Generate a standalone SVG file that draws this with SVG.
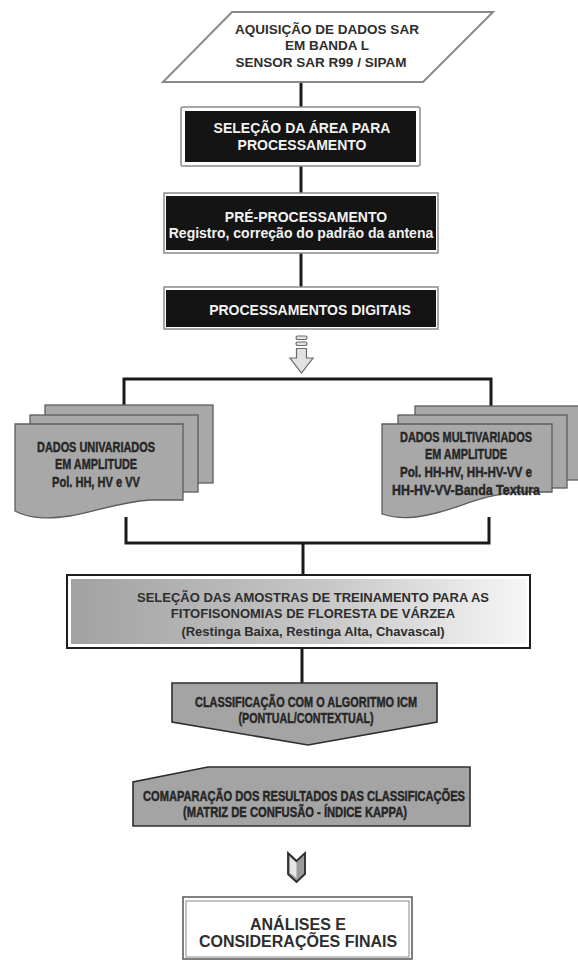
<svg xmlns="http://www.w3.org/2000/svg" width="578" height="960" viewBox="0 0 578 960">
<defs>
<style>
.t{font-family:"Liberation Sans",Arial,sans-serif;font-weight:bold;text-anchor:middle}
.dk{fill:#2e2e2e}
.wh{fill:#f2f2f2}
.n{font-family:"Liberation Sans Narrow","Liberation Sans",Arial,sans-serif;font-weight:bold;text-anchor:middle;fill:#262626;stroke:#262626;stroke-width:0.45;font-size:15px}
.ln{stroke:#1a1a1a;stroke-width:3;fill:none}
.frame{fill:#fff;stroke:#8a8a8a;stroke-width:1.5}
.blk{fill:#141414}
.doc{fill:#a8a8a8;stroke:#5c5c5c;stroke-width:1.3}
.gshape{fill:#a4a4a4;stroke:#2e2e2e;stroke-width:1.6}
</style>
<linearGradient id="grad" x1="0" y1="0" x2="1" y2="0">
<stop offset="0" stop-color="#a2a2a2"/>
<stop offset="0.55" stop-color="#c6c6c6"/>
<stop offset="1" stop-color="#f6f6f6"/>
</linearGradient>
</defs>
<rect width="578" height="960" fill="#fff"/>

<g id="connectors">
<line class="ln" x1="301" y1="82" x2="301" y2="107"/>
<line class="ln" x1="301" y1="166" x2="301" y2="194"/>
<line class="ln" x1="301" y1="253" x2="301" y2="287"/>
<polyline class="ln" points="124,405 124,379 491,379 491,406"/>
<polyline class="ln" points="126,517 126,543 489,543 489,517"/>
<line class="ln" x1="303" y1="543" x2="303" y2="575"/>
<line class="ln" x1="302" y1="648" x2="302" y2="683"/>
<g id="arrow1" fill="#e2e2e2" stroke="#6a6a6a" stroke-width="1.2">
<rect x="296" y="336" width="11" height="3.5" rx="1.7"/>
<rect x="296" y="342" width="11" height="3.5" rx="1.7"/>
<path d="M296.5,348.5 L306.5,348.5 L306.5,358 L313,358 L301.5,373 L290,358 L296.5,358 Z"/>
</g>
<g id="arrow2">
<path d="M288,853 L296.5,861 L305,853 L305,874 L296.5,882 L288,874 Z" fill="#9a9a9a" stroke="#2a2a2a" stroke-width="1.8"/>
<path d="M290,857 L296.5,863 L296.5,878 L290,873 Z" fill="#e6e6e6"/>
</g>
</g>

<g id="n1">
<path d="M232,12 L493,12 L423,82 L163,82 Z" fill="#fff" stroke="#8a8a8a" stroke-width="2"/>
<text class="t dk" font-size="13.5" x="327" y="34">AQUISIÇÃO DE DADOS SAR</text>
<text class="t dk" font-size="13.5" x="327" y="50">EM BANDA L</text>
<text class="t dk" font-size="13.5" x="321" y="67">SENSOR SAR R99 / SIPAM</text>
</g>

<g id="n2">
<rect class="frame" x="181" y="107" width="239" height="59" rx="2"/>
<rect class="blk" x="185" y="111" width="231" height="51"/>
<text class="t wh" font-size="14" x="302" y="133">SELEÇÃO DA ÁREA PARA</text>
<text class="t wh" font-size="14" x="302" y="150">PROCESSAMENTO</text>
</g>

<g id="n3">
<rect class="frame" x="164" y="193" width="274" height="60"/>
<rect class="blk" x="166" y="196" width="270" height="54"/>
<text class="t wh" font-size="14" x="306" y="222">PRÉ-PROCESSAMENTO</text>
<text class="t wh" font-size="14" x="301" y="238">Registro, correção do padrão da antena</text>
</g>

<g id="n4">
<rect class="frame" x="164" y="287" width="274" height="42"/>
<rect class="blk" x="166" y="290" width="270" height="37"/>
<text class="t wh" font-size="14" x="310" y="315">PROCESSAMENTOS DIGITAIS</text>
</g>

<g id="n5">
<rect class="doc" x="45" y="405" width="168" height="78"/>
<rect class="doc" x="30" y="415" width="168" height="77"/>
<path class="doc" d="M15,424 L183,424 L183,500 L150,500 C118,502 96,512 70,516 C48,519 30,519 15,511 Z"/>
<text class="n" x="96" y="452" textLength="118" lengthAdjust="spacingAndGlyphs">DADOS UNIVARIADOS</text>
<text class="n" x="96" y="469" textLength="82" lengthAdjust="spacingAndGlyphs">EM AMPLITUDE</text>
<text class="n" x="96" y="487" textLength="88" lengthAdjust="spacingAndGlyphs">Pol. HH, HV e VV</text>
</g>

<g id="n6">
<rect class="doc" x="415" y="406" width="170" height="74"/>
<rect class="doc" x="398" y="415" width="169" height="73"/>
<path class="doc" d="M382,424 L552,424 L552,492 L519,492 C487,494 465,505 440,512 C418,518 400,520 382,514 Z"/>
<text class="n" x="466" y="442" textLength="132" lengthAdjust="spacingAndGlyphs">DADOS MULTIVARIADOS</text>
<text class="n" x="466" y="459" textLength="82" lengthAdjust="spacingAndGlyphs">EM AMPLITUDE</text>
<text class="n" x="466" y="477" textLength="132" lengthAdjust="spacingAndGlyphs">Pol. HH-HV, HH-HV-VV e</text>
<text class="n" x="466" y="495" textLength="148" lengthAdjust="spacingAndGlyphs">HH-HV-VV-Banda Textura</text>
</g>

<g id="n7">
<rect x="67" y="575" width="463" height="73" fill="#fff" stroke="#1e1e1e" stroke-width="2"/>
<rect x="71" y="579" width="456" height="65" fill="url(#grad)"/>
<text class="t dk" font-size="13" x="313" y="602">SELEÇÃO DAS AMOSTRAS DE TREINAMENTO PARA AS</text>
<text class="t dk" font-size="13" x="313" y="618">FITOFISONOMIAS DE FLORESTA DE VÁRZEA</text>
<text class="t dk" font-size="13" x="313" y="636">(Restinga Baixa, Restinga Alta, Chavascal)</text>
</g>

<g id="n8">
<path class="gshape" d="M172,683 L437,683 L437,722 L308,745 L172,722 Z"/>
<text class="n" x="306" y="707" textLength="222" lengthAdjust="spacingAndGlyphs">CLASSIFICAÇÃO COM O ALGORITMO ICM</text>
<text class="n" x="306" y="723" textLength="135" lengthAdjust="spacingAndGlyphs">(PONTUAL/CONTEXTUAL)</text>
</g>

<g id="n9">
<path class="gshape" d="M208,767 L470,767 L470,826 L133,826 L133,782 Z"/>
<text class="n" x="304" y="801" textLength="322" lengthAdjust="spacingAndGlyphs">COMAPARAÇÃO DOS RESULTADOS DAS CLASSIFICAÇÕES</text>
<text class="n" x="295" y="817" textLength="224" lengthAdjust="spacingAndGlyphs">(MATRIZ DE CONFUSÃO - ÍNDICE KAPPA)</text>
</g>

<g id="n10">
<rect x="183" y="897" width="229" height="62" fill="#fff" stroke="#555" stroke-width="1.5"/>
<rect x="186" y="901" width="223" height="56" fill="#fff" stroke="#888" stroke-width="1"/>
<text class="t dk" font-size="16" x="298" y="930">ANÁLISES E</text>
<text class="t dk" font-size="16" x="298" y="947">CONSIDERAÇÕES FINAIS</text>
</g>
</svg>
